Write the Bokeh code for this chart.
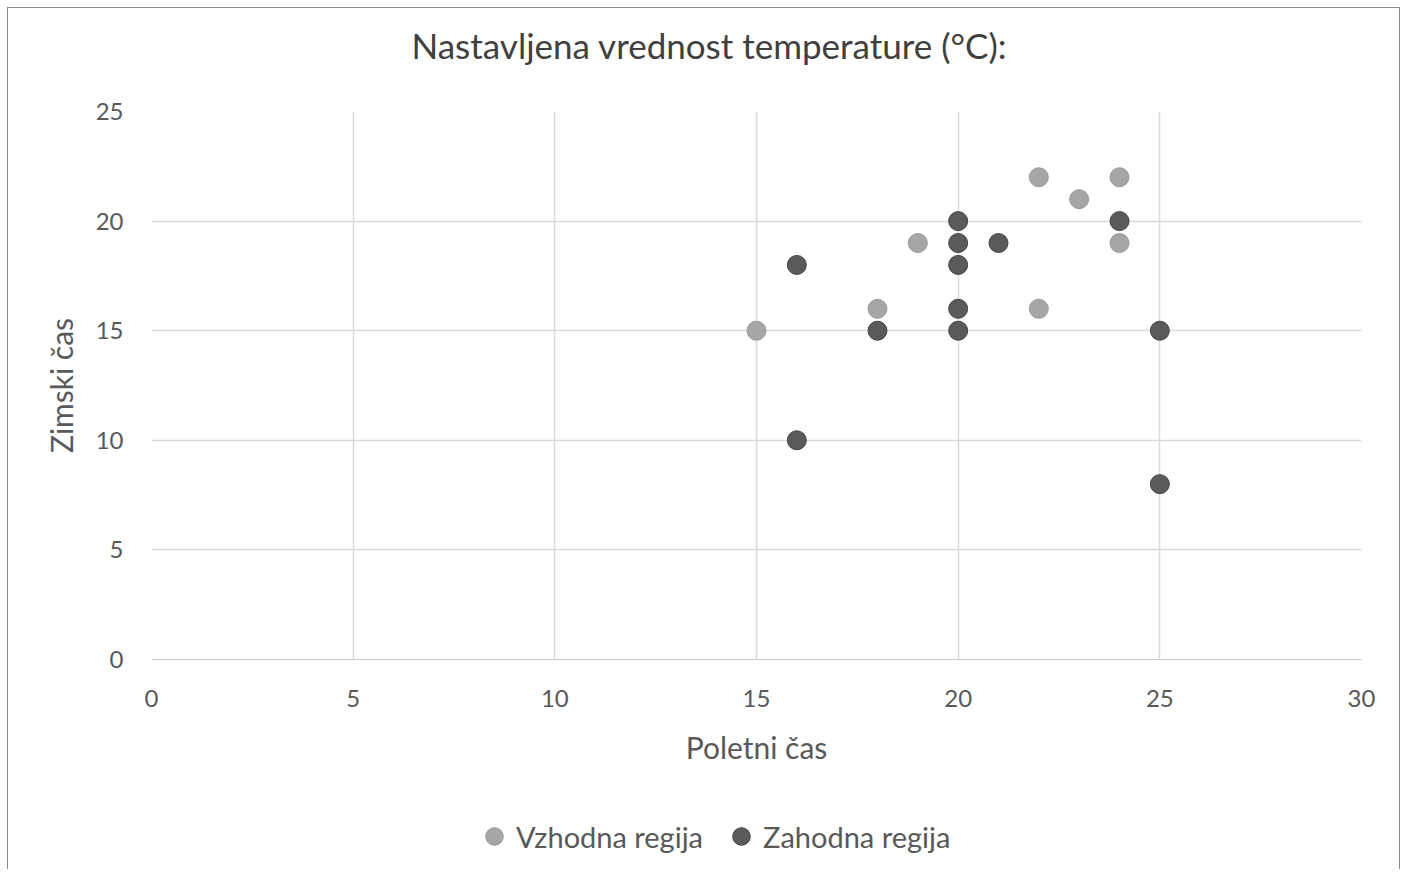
from bokeh.plotting import figure
from bokeh.models import Range1d, SingleIntervalTicker, Legend, LegendItem, Title
from bokeh.layouts import column
from bokeh.embed import file_html
from bokeh.resources import INLINE

east_x = [15, 18, 19, 22, 23, 24, 24, 22]
east_y = [15, 16, 19, 22, 21, 22, 19, 16]
west_x = [16, 16, 18, 20, 20, 20, 20, 20, 21, 24, 25, 25]
west_y = [18, 10, 15, 20, 19, 18, 16, 15, 19, 20, 15, 8]
east_name = "Vzhodna regija"
west_name = "Zahodna regija"
title_text = "Nastavljena vrednost temperature (°C):"
x_label = "Poletni čas"
y_label = "Zimski čas"

FONT = "Lato"
TXT = "#595959"
EAST_STYLE = dict(size=19, fill_color="#a6a6a6", line_color="#9a9a9a", line_width=1)
WEST_STYLE = dict(size=19, fill_color="#5a5a5a", line_color="#444444", line_width=1)

p = figure(frame_width=1210, frame_height=548, output_backend="svg", toolbar_location=None,
           x_range=Range1d(0, 30), y_range=Range1d(0, 25),
           min_border_left=143, min_border_right=38, min_border_top=103, min_border_bottom=120)

p.title.text = title_text
p.title.align = "left"
p.title.offset = 260
p.title.text_font = FONT
p.title.text_font_size = "35px"
p.title.text_font_style = "normal"
p.title.text_color = "#404040"
p.title.standoff = 0

# spacer between the title and the plot area
spacer = Title(text=" ", text_font_size="12px", standoff=30)
p.add_layout(spacer, "above")

p.outline_line_color = None

for ax in (p.xaxis, p.yaxis):
    ax.ticker = SingleIntervalTicker(interval=5)
    ax.major_label_text_font = FONT
    ax.major_label_text_font_size = "24px"
    ax.major_label_text_color = TXT
    ax.axis_label_text_font = FONT
    ax.axis_label_text_font_size = "30px"
    ax.axis_label_text_font_style = "normal"
    ax.axis_label_text_color = TXT
    ax.major_tick_line_color = None
    ax.minor_tick_line_color = None

p.xaxis.axis_line_color = "#c8c8c8"
p.yaxis.axis_line_color = None
p.xaxis.axis_label = x_label
p.yaxis.axis_label = y_label
p.xaxis.major_label_standoff = 24
p.yaxis.major_label_standoff = 22
p.xaxis.axis_label_standoff = 19
p.yaxis.axis_label_standoff = 14

p.grid.grid_line_color = "#d9d9d9"
p.grid.grid_line_width = 1.5

p.scatter(east_x, east_y, **EAST_STYLE)
p.scatter(west_x, west_y, **WEST_STYLE)

# legend strip below the chart (series renderers here fall outside its range, only the legend shows)
p2 = figure(frame_width=1391, frame_height=66, output_backend="svg", toolbar_location=None,
            x_range=Range1d(-2, -1), y_range=Range1d(-2, -1), x_axis_type=None, y_axis_type=None,
            min_border_left=0, min_border_right=0, min_border_top=24, min_border_bottom=0)
p2.outline_line_color = None
l1 = p2.scatter(east_x, east_y, **EAST_STYLE)
l2 = p2.scatter(west_x, west_y, **WEST_STYLE)

legend = Legend(items=[LegendItem(label=east_name, renderers=[l1]),
                       LegendItem(label=west_name, renderers=[l2])],
                orientation="horizontal", location=(464, 11))
legend.label_text_font = FONT
legend.label_text_font_size = "29px"
legend.label_text_color = TXT
legend.border_line_color = None
legend.background_fill_color = None
legend.glyph_width = 44
legend.glyph_height = 44
legend.spacing = 16
legend.margin = 0
legend.padding = 0
legend.label_standoff = 0
p2.add_layout(legend)

layout = column(p, p2, spacing=0)
layout.styles = {"border": "1px solid #8a8a8a", "border-bottom": "none", "margin": "7px 0 0 7px"}

open("out.html", "w").write(file_html(layout, INLINE))
